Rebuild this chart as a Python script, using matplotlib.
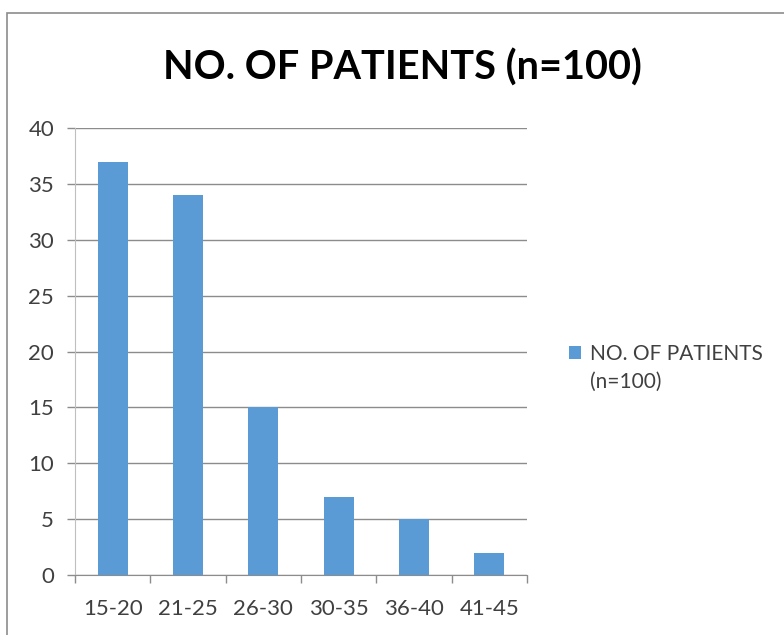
import matplotlib
matplotlib.use('Agg')
import matplotlib.pyplot as plt
from matplotlib.patches import Rectangle

# data
age_groups = ['15-20', '21-25', '26-30', '30-35', '36-40', '41-45']
patients = [37, 34, 15, 7, 5, 2]
y_ticks = [0, 5, 10, 15, 20, 25, 30, 35, 40]

bar_color = '#5B9BD5'
grid_color = '#8C8C8C'

plt.rcParams['font.family'] = ['Lato', 'DejaVu Sans']

fig = plt.figure(figsize=(7.84, 6.35), dpi=100)
fig.patch.set_facecolor('white')

# outer chart frame (runs off the right and bottom edges)
fig.patches.append(Rectangle((7 / 784, -0.05), 1.0, 1 - 13 / 635 + 0.05,
                             transform=fig.transFigure, fill=False,
                             edgecolor='#8C8C8C', linewidth=1.2))

ax = fig.add_axes([75 / 784, 1 - 575 / 635, (527 - 75) / 784, (575 - 128) / 635])

x = list(range(len(age_groups)))
ax.bar(x, patients, width=0.4, color=bar_color, zorder=3,
       label='NO. OF PATIENTS\n(n=100)')

ax.set_xlim(-0.5, len(age_groups) - 0.5)
ax.set_ylim(0, 40)
ax.set_yticks(y_ticks)
ax.set_xticks(x)
ax.set_xticklabels(age_groups)

# category boundary ticks on x axis
ax.set_xticks([i - 0.5 for i in range(len(age_groups) + 1)], minor=True)
ax.tick_params(axis='x', which='major', length=0, pad=17, labelsize=16, labelcolor='#404040')
ax.tick_params(axis='x', which='minor', length=6, width=1, color=grid_color, direction='out')
ax.tick_params(axis='y', length=6, width=1, color=grid_color, pad=9, labelsize=16,
               labelcolor='#404040')

ax.yaxis.grid(True, color=grid_color, linewidth=1, zorder=0)
ax.set_axisbelow(True)
for s in ['top', 'right']:
    ax.spines[s].set_visible(False)
ax.spines['left'].set_color('#BFBFBF')
ax.spines['bottom'].set_color(grid_color)

fig.text(402 / 784, 1 - 68 / 635, 'NO. OF PATIENTS (n=100)', ha='center', va='center',
         fontsize=28.5, fontweight='bold', color='black')

leg = ax.legend(loc='center left', bbox_to_anchor=(550 / 784, 1 - 368 / 635),
                bbox_transform=fig.transFigure, frameon=False, fontsize=15,
                handlelength=0.6, handleheight=0.6, handletextpad=0.4,
                labelcolor='#404040')
for t in leg.get_texts():
    t.set_linespacing(1.45)
# line the marker up with the first text line, like the original
sq = leg.legend_handles[0]
sq.set_y(sq.get_y() + 11.5)

fig.savefig('out.png', dpi=100, facecolor='white')
